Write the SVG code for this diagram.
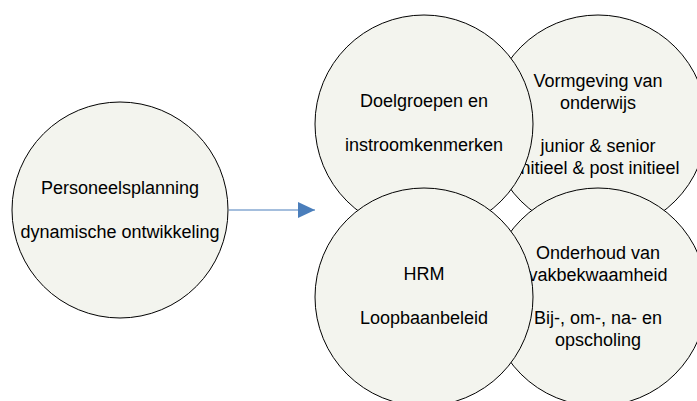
<svg xmlns="http://www.w3.org/2000/svg" width="697" height="401" viewBox="0 0 697 401">
<defs>
<style>
.c{fill:#f3f4ee;stroke:#000;stroke-width:1}
.t{font-family:"Liberation Sans",Arial,sans-serif;font-size:18px;fill:#000;text-anchor:middle}
.a{stroke:#4a7ebb;stroke-width:1.2;fill:none}
</style>
<marker id="ah" markerWidth="17" markerHeight="16" refX="17" refY="8" orient="auto" markerUnits="userSpaceOnUse">
<path d="M0,0 L17,8 L0,16 Z" fill="#4a7ebb"/>
</marker>
</defs>
<rect width="697" height="401" fill="#fff"/>
<g id="personeelsplanning">
<circle class="c" cx="120" cy="210" r="108"/>
<text class="t" x="120" y="194">Personeelsplanning</text>
<text class="t" x="120" y="238">dynamische ontwikkeling</text>
</g>
<g id="connectors">
<line class="a" x1="229" y1="210" x2="315" y2="210" marker-end="url(#ah)"/>
</g>
<g id="vormgeving">
<circle class="c" cx="598" cy="124" r="109"/>
<text class="t" x="598" y="87">Vormgeving van</text>
<text class="t" x="598" y="108.5">onderwijs</text>
<text class="t" x="598" y="152">junior &amp; senior</text>
<text class="t" x="598" y="173.5">initieel &amp; post initieel</text>
</g>
<g id="onderhoud">
<circle class="c" cx="598" cy="297" r="109"/>
<text class="t" x="598" y="259">Onderhoud van</text>
<text class="t" x="598" y="280.5">vakbekwaamheid</text>
<text class="t" x="598" y="324">Bij-, om-, na- en</text>
<text class="t" x="598" y="345.5">opscholing</text>
</g>
<g id="doelgroepen">
<circle class="c" cx="424" cy="124" r="109"/>
<text class="t" x="424" y="107">Doelgroepen en</text>
<text class="t" x="424" y="151">instroomkenmerken</text>
</g>
<g id="hrm">
<circle class="c" cx="424" cy="297" r="109"/>
<text class="t" x="424" y="280">HRM</text>
<text class="t" x="424" y="324">Loopbaanbeleid</text>
</g>
</svg>
